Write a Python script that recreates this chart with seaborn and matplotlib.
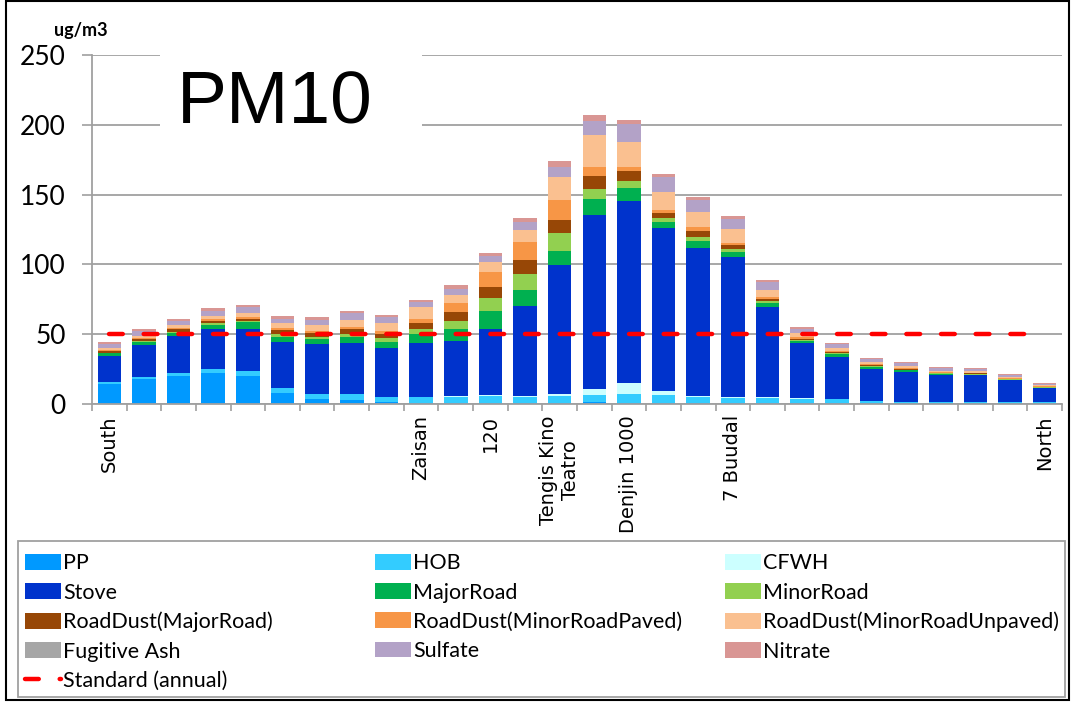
import numpy as np
import matplotlib
matplotlib.use("Agg")
import matplotlib.pyplot as plt
from matplotlib.patches import Patch, Rectangle
from matplotlib.lines import Line2D
import seaborn as sns

# Receptor sites along the south-north transect
sites = list(range(1, 29))
site_labels = ["South", "", "", "", "", "", "", "", "", "Zaisan", "", "120", "",
               "Tengis Kino\nTeatro", "", "Denjin 1000", "", "", "7 Buudal", "", "",
               "", "", "", "", "", "", "North"]

# Source contributions to PM10 (ug/m3)
pp = [14.3, 17.7, 20.1, 22.0, 20.1, 8.1, 3.3, 2.9, 1.4, 1.0, 1.0, 1.0, 1.0, 1.0,
      1.4, 0.5, 0.5, 0.5, 0.5, 1.0, 1.0, 1.0, 0.7, 0.7, 0.7, 0.7, 0.7, 0.5]
hob = [1.4, 1.9, 2.4, 3.3, 3.8, 3.3, 3.8, 4.3, 3.8, 3.8, 4.3, 4.8, 4.3, 4.8,
       4.8, 6.7, 6.0, 4.3, 3.6, 3.3, 2.9, 2.4, 1.2, 1.0, 0.7, 0.7, 0.7, 0.7]
cfwh = [0.0, 0.0, 0.0, 0.0, 0.0, 0.0, 0.0, 0.0, 0.0, 0.3, 0.5, 0.5, 0.5, 1.4,
        4.3, 8.1, 2.9, 1.0, 1.2, 0.5, 0.3, 0.0, 0.0, 0.0, 0.0, 0.0, 0.0, 0.0]
stove = [18.9, 22.7, 26.3, 28.2, 29.8, 33.2, 35.6, 36.8, 34.6, 38.7, 39.4, 47.3, 64.5, 92.4,
         124.9, 130.1, 117.0, 106.3, 100.3, 65.0, 39.2, 30.6, 23.4, 21.3, 19.3, 19.1, 15.5, 10.0]
major_road = [1.7, 2.4, 2.4, 3.3, 4.8, 3.6, 3.6, 4.3, 4.8, 6.7, 8.8, 12.9, 11.5, 10.3,
              11.2, 9.1, 3.8, 4.8, 3.3, 2.4, 1.4, 1.9, 1.2, 1.0, 0.7, 0.5, 0.5, 0.5]
minor_road = [0.5, 0.7, 0.7, 1.4, 1.0, 1.9, 1.4, 1.9, 2.4, 3.3, 5.7, 9.1, 11.2, 12.9,
              7.2, 5.5, 3.3, 2.6, 1.9, 1.4, 0.7, 0.5, 0.5, 0.5, 0.5, 0.5, 0.2, 0.2]
dust_major = [1.2, 1.0, 1.7, 1.4, 1.7, 2.9, 2.9, 3.8, 3.1, 4.3, 6.2, 8.4, 10.0, 9.1,
              9.6, 6.9, 3.6, 4.1, 2.9, 1.9, 1.2, 0.7, 0.7, 0.7, 0.5, 0.5, 0.5, 0.5]
dust_paved = [0.7, 0.7, 0.7, 1.0, 1.0, 1.2, 1.4, 1.4, 1.9, 2.9, 6.7, 10.7, 12.7, 14.3,
              6.7, 3.1, 1.9, 2.9, 1.4, 1.0, 1.0, 0.7, 0.7, 0.7, 0.5, 0.5, 0.7, 0.5]
dust_unpaved = [1.7, 1.9, 2.1, 2.4, 2.9, 3.6, 4.3, 4.8, 6.2, 8.6, 5.7, 6.7, 9.1, 16.7,
                22.4, 17.9, 12.7, 10.7, 10.0, 5.3, 2.9, 2.1, 1.4, 1.4, 1.0, 1.2, 0.7, 0.7]
fugitive_ash = [0.0, 0.0, 0.0, 0.0, 0.0, 0.0, 0.0, 0.0, 0.0, 0.0, 0.0, 0.0, 0.0, 0.0,
                0.0, 0.0, 0.0, 0.0, 0.0, 0.0, 0.0, 0.0, 0.0, 0.0, 0.0, 0.0, 0.0, 0.0]
sulfate = [2.9, 3.3, 3.3, 3.8, 4.3, 3.3, 3.8, 4.8, 3.8, 3.8, 4.3, 4.3, 5.7, 7.2,
           10.5, 12.7, 11.2, 9.1, 7.2, 5.7, 3.3, 3.1, 2.1, 1.9, 1.7, 1.2, 1.0, 0.7]
nitrate = [1.4, 1.2, 1.4, 1.7, 1.4, 1.9, 1.9, 1.9, 1.9, 1.4, 2.4, 2.4, 2.9, 3.8,
           4.1, 2.9, 1.9, 1.9, 2.4, 1.4, 1.2, 1.0, 1.0, 1.0, 1.0, 1.0, 0.7, 0.5]
standard = [50, 50, 50, 50, 50, 50, 50, 50, 50, 50, 50, 50, 50, 50,
            50, 50, 50, 50, 50, 50, 50, 50, 50, 50, 50, 50, 50, 50]

sources = ["PP", "HOB", "CFWH", "Stove", "MajorRoad", "MinorRoad",
           "RoadDust(MajorRoad)", "RoadDust(MinorRoadPaved)", "RoadDust(MinorRoadUnpaved)",
           "Fugitive Ash", "Sulfate", "Nitrate"]
series = [pp, hob, cfwh, stove, major_road, minor_road, dust_major, dust_paved,
          dust_unpaved, fugitive_ash, sulfate, nitrate]
colors = ["#0099FF", "#33CCFF", "#CCFFFF", "#0033CC", "#00B050", "#92D050",
          "#974706", "#F79646", "#FAC090", "#A6A6A6", "#B3A2C7", "#D99694"]

sns.set_theme(style="white")
plt.rcParams["font.family"] = ["Lato", "DejaVu Sans"]
plt.rcParams.update({"text.color": "black", "axes.labelcolor": "black",
                     "xtick.color": "black", "ytick.color": "black"})

W, H = 1077, 705
fig = plt.figure(figsize=(W / 100, H / 100), dpi=100)
ax = fig.add_axes([92 / W, 1 - 404 / H, 970 / W, 349 / H])

# Stacked bars: draw cumulative totals from the top layer down
cum = np.cumsum(np.array(series, dtype=float), axis=0)
for i in reversed(range(len(sources))):
    sns.barplot(x=sites, y=cum[i], color=colors[i], saturation=1, width=0.68,
                errorbar=None, linewidth=0, ax=ax)

# Annual standard
sns.lineplot(x=np.arange(len(sites)), y=standard, color="#FF0000", lw=3.2,
             linestyle=(0, (3.1, 4.7)), dash_capstyle="round", ax=ax, zorder=10)

grid_c = "#A0A0A0"
ax.set_xlim(-0.5, len(sites) - 0.5)
ax.set_ylim(0, 250)
ax.set_yticks(range(0, 251, 50))
ax.yaxis.grid(True, color=grid_c, lw=1.3)
ax.xaxis.grid(False)
ax.set_axisbelow(True)
for side in ["top", "right"]:
    ax.spines[side].set_visible(False)
for side in ["left", "bottom"]:
    ax.spines[side].set_color(grid_c)
    ax.spines[side].set_linewidth(1.3)
ax.set_xlabel("")
ax.set_ylabel("")

ax.tick_params(axis="y", left=True, length=7, width=1.2, color=grid_c, direction="out",
               pad=12, labelsize=19, labelcolor="black")
ax.set_xticks(range(len(sites)))
ax.set_xticklabels(site_labels, rotation=90, fontsize=14, family="DejaVu Sans")
for lab in ax.get_xticklabels():
    lab.set_multialignment("center")
ax.tick_params(axis="x", which="major", bottom=False, length=0, pad=8, labelcolor="black")
ax.set_xticks(np.arange(-0.5, len(sites), 1.0), minor=True)
ax.tick_params(axis="x", which="minor", bottom=True, length=5, width=1.2,
               color=grid_c, direction="out")

# Unit label and panel title
fig.text(54 / W, 1 - 36 / H, "ug/m3", fontsize=13, fontweight="bold", va="baseline",
         color="black")
fig.add_artist(Rectangle((160 / W, 1 - 133 / H), 262 / W, 88 / H, transform=fig.transFigure,
                         facecolor="white", edgecolor="none", zorder=3))
fig.text(177 / W, 1 - 124 / H, "PM10", fontsize=54, family="Liberation Sans",
         va="baseline", color="black", zorder=4)

# Legend: three columns inside one frame
patch = {s: Patch(facecolor=c, edgecolor="none") for s, c in zip(sources, colors)}
std_handle = Line2D([], [], color="#FF0000", lw=3.2, linestyle=(0, (3.1, 4.7)),
                    dash_capstyle="round")
columns = [["PP", "Stove", "RoadDust(MajorRoad)", "Fugitive Ash", "Standard (annual)"],
           ["HOB", "MajorRoad", "RoadDust(MinorRoadPaved)", "Sulfate"],
           ["CFWH", "MinorRoad", "RoadDust(MinorRoadUnpaved)", "Nitrate"]]
col_x = [21, 371, 721]
for x0, col in zip(col_x, columns):
    hs = [std_handle if n == "Standard (annual)" else patch[n] for n in col]
    fig.legend(hs, col, loc="upper left", bbox_to_anchor=(x0 / W, 1 - 549 / H),
               bbox_transform=fig.transFigure, frameon=False, fontsize=15.5,
               handlelength=1.65, handleheight=0.75, handletextpad=0.12,
               labelspacing=0.43, borderpad=0.2, borderaxespad=0)
fig.add_artist(Rectangle((18 / W, 1 - 697 / H), 1047 / W, 156 / H, transform=fig.transFigure,
                         fill=False, edgecolor=grid_c, lw=1.3))

# Chart border
fig.add_artist(Rectangle((6 / W, 5 / H), 1063 / W, 699 / H, transform=fig.transFigure,
                         fill=False, edgecolor="black", lw=1.5))

fig.savefig("out.png", dpi=100)
